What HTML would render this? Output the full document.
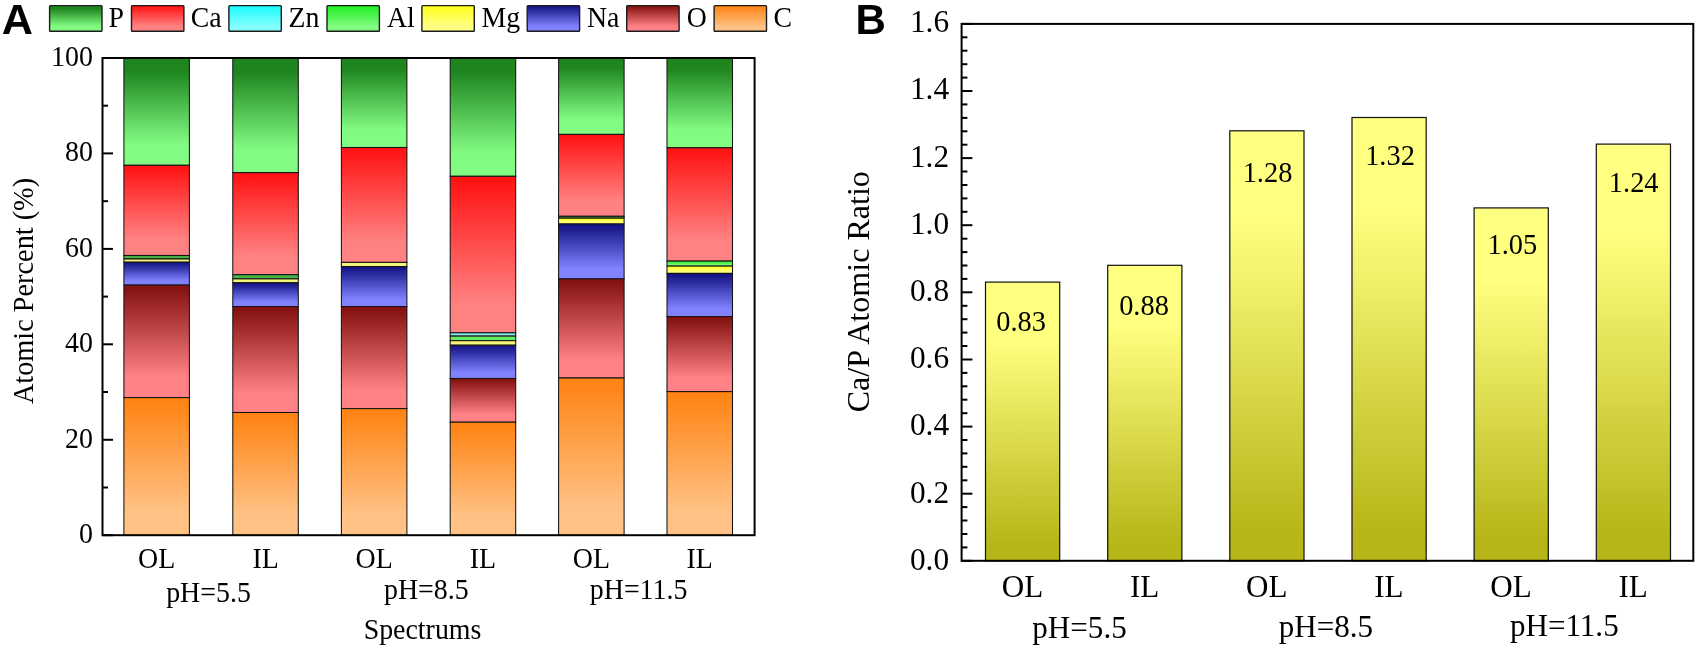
<!DOCTYPE html>
<html lang="en"><head><meta charset="utf-8"><title>EDS atomic percent and Ca/P ratio</title>
<style>
html,body{margin:0;padding:0;background:#fff;}
body{width:1699px;height:650px;overflow:hidden;}
svg{display:block;}
text{white-space:pre;}
</style></head><body>
<svg width="1699" height="650" viewBox="0 0 1699 650">
<rect width="1699" height="650" fill="#fff"/>
<g filter="url(#soft)">
<rect width="1699" height="650" fill="#fff"/>
<defs>
<filter id="soft" x="0" y="0" width="1699" height="650" filterUnits="userSpaceOnUse" color-interpolation-filters="sRGB"><feGaussianBlur stdDeviation="0.4"/></filter>
<linearGradient id="gP" x1="0" y1="0" x2="0" y2="1"><stop offset="0.12" stop-color="#1f851f"/><stop offset="0.8" stop-color="#82fb82"/></linearGradient>
<linearGradient id="gCa" x1="0" y1="0" x2="0" y2="1"><stop offset="0.03" stop-color="#ff1414"/><stop offset="0.82" stop-color="#ff8282"/></linearGradient>
<linearGradient id="gZn" x1="0" y1="0" x2="0" y2="1"><stop offset="0.03" stop-color="#1cfcfc"/><stop offset="0.82" stop-color="#84ffff"/></linearGradient>
<linearGradient id="gAl" x1="0" y1="0" x2="0" y2="1"><stop offset="0.03" stop-color="#22f022"/><stop offset="0.82" stop-color="#82fb82"/></linearGradient>
<linearGradient id="gMg" x1="0" y1="0" x2="0" y2="1"><stop offset="0.03" stop-color="#ffff1c"/><stop offset="0.82" stop-color="#ffff84"/></linearGradient>
<linearGradient id="gNa" x1="0" y1="0" x2="0" y2="1"><stop offset="0.03" stop-color="#141486"/><stop offset="0.82" stop-color="#8282ff"/></linearGradient>
<linearGradient id="gO" x1="0" y1="0" x2="0" y2="1"><stop offset="0.03" stop-color="#861212"/><stop offset="0.82" stop-color="#ff8286"/></linearGradient>
<linearGradient id="gC" x1="0" y1="0" x2="0" y2="1"><stop offset="0.03" stop-color="#ff8414"/><stop offset="0.82" stop-color="#ffc184"/></linearGradient>
<linearGradient id="gY" x1="0" y1="0" x2="0" y2="1"><stop offset="0.21" stop-color="#ffff80"/><stop offset="0.94" stop-color="#b6b618"/></linearGradient>
</defs>
<g stroke="#141414" stroke-width="1.05">
<rect x="123.9" y="58.0" width="65.5" height="107.3" fill="url(#gP)"/>
<rect x="123.9" y="165.3" width="65.5" height="90.2" fill="url(#gCa)"/>
<rect x="123.9" y="255.5" width="65.5" height="3.5" fill="#46b446"/>
<rect x="123.9" y="259.0" width="65.5" height="3.2" fill="#f4f47a"/>
<rect x="123.9" y="262.2" width="65.5" height="22.9" fill="url(#gNa)"/>
<rect x="123.9" y="285.1" width="65.5" height="112.5" fill="url(#gO)"/>
<rect x="123.9" y="397.6" width="65.5" height="137.6" fill="url(#gC)"/>
<rect x="232.8" y="58.0" width="65.5" height="114.6" fill="url(#gP)"/>
<rect x="232.8" y="172.6" width="65.5" height="102.1" fill="url(#gCa)"/>
<rect x="232.8" y="274.7" width="65.5" height="4.2" fill="#46b446"/>
<rect x="232.8" y="278.9" width="65.5" height="3.9" fill="#f4f47a"/>
<rect x="232.8" y="282.8" width="65.5" height="23.8" fill="url(#gNa)"/>
<rect x="232.8" y="306.6" width="65.5" height="105.9" fill="url(#gO)"/>
<rect x="232.8" y="412.5" width="65.5" height="122.7" fill="url(#gC)"/>
<rect x="341.4" y="58.0" width="65.5" height="89.5" fill="url(#gP)"/>
<rect x="341.4" y="147.5" width="65.5" height="114.9" fill="url(#gCa)"/>
<rect x="341.4" y="262.4" width="65.5" height="4.2" fill="#f4f47a"/>
<rect x="341.4" y="266.6" width="65.5" height="40.0" fill="url(#gNa)"/>
<rect x="341.4" y="306.6" width="65.5" height="102.0" fill="url(#gO)"/>
<rect x="341.4" y="408.6" width="65.5" height="126.6" fill="url(#gC)"/>
<rect x="450.2" y="58.0" width="65.5" height="118.3" fill="url(#gP)"/>
<rect x="450.2" y="176.3" width="65.5" height="156.5" fill="url(#gCa)"/>
<rect x="450.2" y="332.8" width="65.5" height="3.3" fill="#86e6ea"/>
<rect x="450.2" y="336.1" width="65.5" height="4.6" fill="#62ea62"/>
<rect x="450.2" y="340.7" width="65.5" height="4.5" fill="#f6f67c"/>
<rect x="450.2" y="345.2" width="65.5" height="33.3" fill="url(#gNa)"/>
<rect x="450.2" y="378.5" width="65.5" height="43.7" fill="url(#gO)"/>
<rect x="450.2" y="422.2" width="65.5" height="113.0" fill="url(#gC)"/>
<rect x="558.6" y="58.0" width="65.5" height="76.4" fill="url(#gP)"/>
<rect x="558.6" y="134.4" width="65.5" height="81.9" fill="url(#gCa)"/>
<rect x="558.6" y="216.3" width="65.5" height="1.9" fill="#46b446"/>
<rect x="558.6" y="218.2" width="65.5" height="5.8" fill="url(#gMg)"/>
<rect x="558.6" y="224.0" width="65.5" height="54.9" fill="url(#gNa)"/>
<rect x="558.6" y="278.9" width="65.5" height="99.1" fill="url(#gO)"/>
<rect x="558.6" y="378.0" width="65.5" height="157.2" fill="url(#gC)"/>
<rect x="667.0" y="58.0" width="65.5" height="89.8" fill="url(#gP)"/>
<rect x="667.0" y="147.8" width="65.5" height="113.3" fill="url(#gCa)"/>
<rect x="667.0" y="261.1" width="65.5" height="5.0" fill="url(#gAl)"/>
<rect x="667.0" y="266.1" width="65.5" height="7.3" fill="url(#gMg)"/>
<rect x="667.0" y="273.4" width="65.5" height="43.2" fill="url(#gNa)"/>
<rect x="667.0" y="316.6" width="65.5" height="75.0" fill="url(#gO)"/>
<rect x="667.0" y="391.6" width="65.5" height="143.6" fill="url(#gC)"/>
</g>
<rect x="102.5" y="58.0" width="652.1" height="477.2" fill="none" stroke="#000" stroke-width="2"/>
<g stroke="#000" stroke-width="2">
<line x1="102.5" y1="535.2" x2="113.0" y2="535.2"/>
<line x1="102.5" y1="487.5" x2="108.0" y2="487.5"/>
<line x1="102.5" y1="439.8" x2="113.0" y2="439.8"/>
<line x1="102.5" y1="392.0" x2="108.0" y2="392.0"/>
<line x1="102.5" y1="344.3" x2="113.0" y2="344.3"/>
<line x1="102.5" y1="296.6" x2="108.0" y2="296.6"/>
<line x1="102.5" y1="248.9" x2="113.0" y2="248.9"/>
<line x1="102.5" y1="201.2" x2="108.0" y2="201.2"/>
<line x1="102.5" y1="153.4" x2="113.0" y2="153.4"/>
<line x1="102.5" y1="105.7" x2="108.0" y2="105.7"/>
<line x1="102.5" y1="58.0" x2="113.0" y2="58.0"/>
</g>
<g font-family='"Liberation Serif", serif' font-size="27.9" fill="#000">
<text transform="translate(92.90 543.40) scale(1 1.03)" text-anchor="end" font-size="27.9">0</text>
<text transform="translate(92.90 447.84) scale(1 1.03)" text-anchor="end" font-size="27.9">20</text>
<text transform="translate(92.90 352.28) scale(1 1.03)" text-anchor="end" font-size="27.9">40</text>
<text transform="translate(92.90 256.72) scale(1 1.03)" text-anchor="end" font-size="27.9">60</text>
<text transform="translate(92.90 161.16) scale(1 1.03)" text-anchor="end" font-size="27.9">80</text>
<text transform="translate(92.90 65.60) scale(1 1.03)" text-anchor="end" font-size="27.9">100</text>
<text transform="translate(156.65 567.60) scale(1 1.05)" text-anchor="middle">OL</text>
<text transform="translate(265.55 567.60) scale(1 1.05)" text-anchor="middle">IL</text>
<text transform="translate(374.15 567.60) scale(1 1.05)" text-anchor="middle">OL</text>
<text transform="translate(482.95 567.60) scale(1 1.05)" text-anchor="middle">IL</text>
<text transform="translate(591.35 567.60) scale(1 1.05)" text-anchor="middle">OL</text>
<text transform="translate(699.75 567.60) scale(1 1.05)" text-anchor="middle">IL</text>
<text transform="translate(208.50 602.40) scale(1 1.05)" text-anchor="middle">pH=5.5</text>
<text transform="translate(426.30 599.00) scale(1 1.05)" text-anchor="middle">pH=8.5</text>
<text transform="translate(638.60 598.60) scale(1 1.05)" text-anchor="middle">pH=11.5</text>
<text transform="translate(422.50 639.20) scale(1 1.05)" text-anchor="middle">Spectrums</text>
<text transform="translate(32.80 291.00) rotate(-90) scale(1 1.05)" text-anchor="middle" font-size="28.3">Atomic Percent (%)</text>
</g>
<g font-family='"Liberation Serif", serif' font-size="27.8" fill="#000">
<rect x="49.60" y="5.6" width="52.4" height="25.6" rx="0.8" fill="url(#gP)" stroke="#1c1c1c" stroke-width="1.4"/>
<text transform="translate(108.58 26.70) scale(1 1.06)">P</text>
<rect x="131.50" y="5.6" width="52.4" height="25.6" rx="0.8" fill="url(#gCa)" stroke="#1c1c1c" stroke-width="1.4"/>
<text transform="translate(190.68 26.70) scale(1 1.06)">Ca</text>
<rect x="228.90" y="5.6" width="52.4" height="25.6" rx="0.8" fill="url(#gZn)" stroke="#1c1c1c" stroke-width="1.4"/>
<text transform="translate(288.50 26.70) scale(1 1.06)">Zn</text>
<rect x="327.00" y="5.6" width="52.4" height="25.6" rx="0.8" fill="url(#gAl)" stroke="#1c1c1c" stroke-width="1.4"/>
<text transform="translate(386.89 26.70) scale(1 1.06)">Al</text>
<rect x="421.90" y="5.6" width="52.4" height="25.6" rx="0.8" fill="url(#gMg)" stroke="#1c1c1c" stroke-width="1.4"/>
<text transform="translate(481.50 26.70) scale(1 1.06)">Mg</text>
<rect x="527.20" y="5.6" width="52.4" height="25.6" rx="0.8" fill="url(#gNa)" stroke="#1c1c1c" stroke-width="1.4"/>
<text transform="translate(586.98 26.70) scale(1 1.06)">Na</text>
<rect x="626.70" y="5.6" width="52.4" height="25.6" rx="0.8" fill="url(#gO)" stroke="#1c1c1c" stroke-width="1.4"/>
<text transform="translate(686.86 26.70) scale(1 1.06)">O</text>
<rect x="714.10" y="5.6" width="52.4" height="25.6" rx="0.8" fill="url(#gC)" stroke="#1c1c1c" stroke-width="1.4"/>
<text transform="translate(773.58 26.70) scale(1 1.06)">C</text>
</g>
<text x="1.8" y="34.4" font-family='"Liberation Sans", sans-serif' font-weight="700" font-size="43.2" fill="#000">A</text>
<text x="855.6" y="34.0" font-family='"Liberation Sans", sans-serif' font-weight="700" font-size="42" fill="#000">B</text>
<g stroke="#111" stroke-width="1.2">
<rect x="985.5" y="282.1" width="74.2" height="278.7" fill="url(#gY)"/>
<rect x="1107.7" y="265.3" width="74.2" height="295.5" fill="url(#gY)"/>
<rect x="1229.8" y="130.8" width="74.2" height="430.0" fill="url(#gY)"/>
<rect x="1352.0" y="117.5" width="74.2" height="443.3" fill="url(#gY)"/>
<rect x="1474.1" y="207.9" width="74.2" height="352.9" fill="url(#gY)"/>
<rect x="1596.3" y="144.1" width="74.2" height="416.7" fill="url(#gY)"/>
</g>
<rect x="961.6" y="23.9" width="731.7" height="536.9" fill="none" stroke="#000" stroke-width="2"/>
<g stroke="#000" stroke-width="2">
<line x1="961.6" y1="560.8" x2="972.4" y2="560.8"/>
<line x1="961.6" y1="547.4" x2="967.4" y2="547.4"/>
<line x1="961.6" y1="534.0" x2="967.4" y2="534.0"/>
<line x1="961.6" y1="520.5" x2="967.4" y2="520.5"/>
<line x1="961.6" y1="507.1" x2="967.4" y2="507.1"/>
<line x1="961.6" y1="493.7" x2="972.4" y2="493.7"/>
<line x1="961.6" y1="480.3" x2="967.4" y2="480.3"/>
<line x1="961.6" y1="466.8" x2="967.4" y2="466.8"/>
<line x1="961.6" y1="453.4" x2="967.4" y2="453.4"/>
<line x1="961.6" y1="440.0" x2="967.4" y2="440.0"/>
<line x1="961.6" y1="426.6" x2="972.4" y2="426.6"/>
<line x1="961.6" y1="413.2" x2="967.4" y2="413.2"/>
<line x1="961.6" y1="399.7" x2="967.4" y2="399.7"/>
<line x1="961.6" y1="386.3" x2="967.4" y2="386.3"/>
<line x1="961.6" y1="372.9" x2="967.4" y2="372.9"/>
<line x1="961.6" y1="359.5" x2="972.4" y2="359.5"/>
<line x1="961.6" y1="346.0" x2="967.4" y2="346.0"/>
<line x1="961.6" y1="332.6" x2="967.4" y2="332.6"/>
<line x1="961.6" y1="319.2" x2="967.4" y2="319.2"/>
<line x1="961.6" y1="305.8" x2="967.4" y2="305.8"/>
<line x1="961.6" y1="292.3" x2="972.4" y2="292.3"/>
<line x1="961.6" y1="278.9" x2="967.4" y2="278.9"/>
<line x1="961.6" y1="265.5" x2="967.4" y2="265.5"/>
<line x1="961.6" y1="252.1" x2="967.4" y2="252.1"/>
<line x1="961.6" y1="238.7" x2="967.4" y2="238.7"/>
<line x1="961.6" y1="225.2" x2="972.4" y2="225.2"/>
<line x1="961.6" y1="211.8" x2="967.4" y2="211.8"/>
<line x1="961.6" y1="198.4" x2="967.4" y2="198.4"/>
<line x1="961.6" y1="185.0" x2="967.4" y2="185.0"/>
<line x1="961.6" y1="171.5" x2="967.4" y2="171.5"/>
<line x1="961.6" y1="158.1" x2="972.4" y2="158.1"/>
<line x1="961.6" y1="144.7" x2="967.4" y2="144.7"/>
<line x1="961.6" y1="131.3" x2="967.4" y2="131.3"/>
<line x1="961.6" y1="117.9" x2="967.4" y2="117.9"/>
<line x1="961.6" y1="104.4" x2="967.4" y2="104.4"/>
<line x1="961.6" y1="91.0" x2="972.4" y2="91.0"/>
<line x1="961.6" y1="77.6" x2="967.4" y2="77.6"/>
<line x1="961.6" y1="64.2" x2="967.4" y2="64.2"/>
<line x1="961.6" y1="50.7" x2="967.4" y2="50.7"/>
<line x1="961.6" y1="37.3" x2="967.4" y2="37.3"/>
<line x1="961.6" y1="23.9" x2="972.4" y2="23.9"/>
</g>
<g font-family='"Liberation Serif", serif' font-size="31.1" fill="#000">
<text x="949.1" y="569.8" text-anchor="end" font-size="31.3">0.0</text>
<text x="949.1" y="502.6" text-anchor="end" font-size="31.3">0.2</text>
<text x="949.1" y="435.4" text-anchor="end" font-size="31.3">0.4</text>
<text x="949.1" y="368.1" text-anchor="end" font-size="31.3">0.6</text>
<text x="949.1" y="300.9" text-anchor="end" font-size="31.3">0.8</text>
<text x="949.1" y="233.7" text-anchor="end" font-size="31.3">1.0</text>
<text x="949.1" y="166.5" text-anchor="end" font-size="31.3">1.2</text>
<text x="949.1" y="99.3" text-anchor="end" font-size="31.3">1.4</text>
<text x="949.1" y="32.0" text-anchor="end" font-size="31.3">1.6</text>
<text transform="translate(1022.40 597.30) scale(1 1.02)" text-anchor="middle">OL</text>
<text transform="translate(1144.56 597.30) scale(1 1.02)" text-anchor="middle">IL</text>
<text transform="translate(1266.72 597.30) scale(1 1.02)" text-anchor="middle">OL</text>
<text transform="translate(1388.88 597.30) scale(1 1.02)" text-anchor="middle">IL</text>
<text transform="translate(1511.04 597.30) scale(1 1.02)" text-anchor="middle">OL</text>
<text transform="translate(1633.20 597.30) scale(1 1.02)" text-anchor="middle">IL</text>
<text transform="translate(1079.50 638.40) scale(1 1.02)" text-anchor="middle">pH=5.5</text>
<text transform="translate(1325.90 637.40) scale(1 1.02)" text-anchor="middle">pH=8.5</text>
<text transform="translate(1564.30 635.80) scale(1 1.02)" text-anchor="middle">pH=11.5</text>
<text transform="translate(869.1 291.7) rotate(-90)" text-anchor="middle" font-size="32.1">Ca/P Atomic Ratio</text>
</g>
<g font-family='"Liberation Serif", serif' font-size="28.4" fill="#000" text-anchor="middle">
<text x="1021.1" y="331.4">0.83</text>
<text x="1144.0" y="314.7">0.88</text>
<text x="1267.5" y="182.4">1.28</text>
<text x="1390.0" y="164.7">1.32</text>
<text x="1512.4" y="253.8">1.05</text>
<text x="1633.7" y="192.0">1.24</text>
</g>
</g>
</svg>
</body></html>
